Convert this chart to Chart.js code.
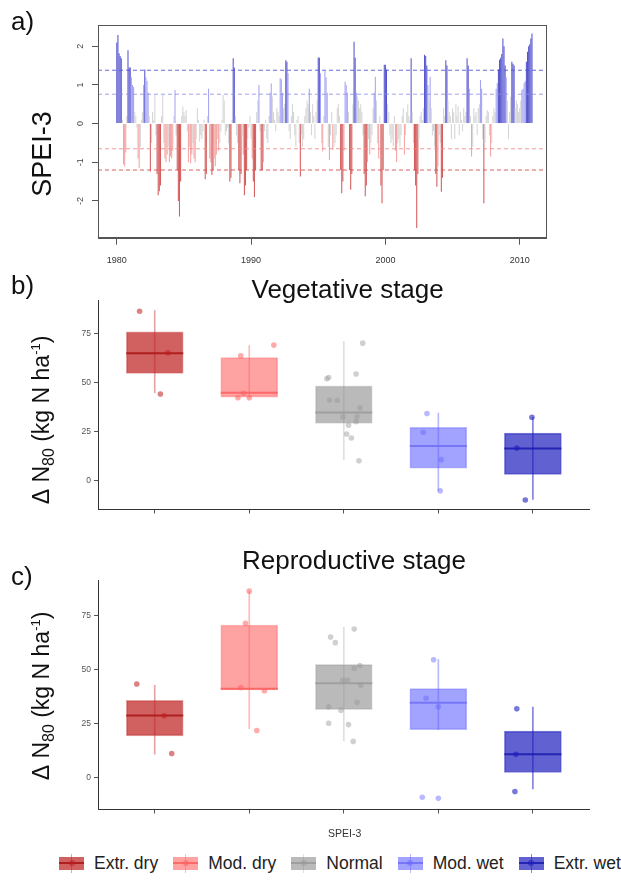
<!DOCTYPE html>
<html>
<head>
<meta charset="utf-8">
<title>SPEI-3 and ΔN80 by stage</title>
<script src="https://cdn.jsdelivr.net/npm/chart.js@4.4.1/dist/chart.umd.min.js"></script>
<style>
  body { margin: 0; background: #fff; font-family: "Liberation Sans", Arial, sans-serif; }
  #page { position: relative; width: 621px; height: 882px; overflow: hidden; background: #fff; }
  canvas { position: absolute; left: 0; }
  #speiChart { top: 0; }
  #vegChart { top: 270px; }
  #repChart { top: 540px; }
  #legend { position: absolute; left: 59px; top: 853px; height: 20px; display: flex; align-items: center; white-space: nowrap; }
  .item { display: flex; align-items: center; margin-right: 15px; font-size: 17.5px; color: #222; }
  .sw { position: relative; width: 25px; height: 19px; margin-right: 10px; }
  .sw b { position: absolute; display: block; }
  .wh { left: 12px; top: 0; width: 1px; height: 19px; }
  .bx { left: 0; top: 3px; width: 25px; height: 13px; }
  .md { left: 0; top: 8.5px; width: 25px; height: 2px; }
  .dt { left: 9.5px; top: 6.5px; width: 6px; height: 6px; border-radius: 50%; }
</style>
</head>
<body>
<div id="page">
  <canvas id="speiChart" width="621" height="270"></canvas>
  <canvas id="vegChart" width="621" height="270"></canvas>
  <canvas id="repChart" width="621" height="300"></canvas>
  <div id="legend"></div>
</div>
<script>
// ---- panel a: monthly SPEI-3, one row per year ----
const startYear = 1980;
const spei3 = [
  2.1, 2.29, 1.82, 1.75, 1.69, 0.1, -1.05, -1.11, -0.75, 0.2, 1.9, 1.45,     // 1980
  1.45, 1.2, 1.0, 0.95, 0.3, 0.2, -0.1, -0.9, -1.15, -0.6, 0.1, 0.3,         // 1981
  1.0, 1.4, 1.2, 1.1, 0.8, 0.2, -1.24, -0.5, 0.3, 0.1, 0.74, -0.3,           // 1982
  -1.3, -1.85, -1.75, -1.6, 0.2, 0.74, -0.5, -0.9, -1.0, -0.8, -0.6, -1.0,   // 1983
  -0.85, -0.9, -0.7, 0.2, 0.87, -0.3, -1.2, -2.0, -2.4, -1.5, 0.2, 0.44,     // 1984
  0.3, 0.2, 0.35, -0.2, -1.0, -0.6, -1.03, -0.8, -0.5, -0.9, -1.0, -0.4,     // 1985
  0.4, 0.1, -0.46, -0.3, -0.4, -0.2, 0.1, -1.44, -1.3, 0.2, 0.9, -0.9,       // 1986
  -1.0, -1.33, -1.2, -0.9, -1.1, -0.8, -0.4, -0.7, -0.5, -0.2, 0.1, 0.74,    // 1987
  0.6, -0.3, -0.2, -0.1, -0.5, -1.5, -1.4, 0.1, 1.69, 1.45, 0.2, -0.3,       // 1988
  -0.5, -1.2, -1.54, -1.3, -0.3, -0.8, -1.85, -1.6, -1.2, -0.4, -0.1, 0.2,   // 1989
  -0.4, -0.9, -1.5, -1.9, -1.2, 0.3, 0.6, 1.0, -0.2, -1.21, -1.2, -1.0,      // 1990
  -0.2, 0.1, -0.4, -0.5, 0.2, 0.8, 1.04, 0.7, 0.3, 0.1, -0.2, 0.4,           // 1991
  0.3, 0.2, 1.17, 1.15, 0.8, 0.4, 0.5, 1.64, 1.6, 1.3, -0.2, -0.4,           // 1992
  0.2, 0.5, 0.3, -0.3, -0.6, 0.1, 0.2, -0.5, -1.37, -0.3, -0.6, -0.4,        // 1993
  0.2, 0.4, 0.6, 0.5, 0.9, 0.3, -0.3, 0.5, 0.2, -0.4, 0.3, 0.6,              // 1994
  1.71, 1.7, 1.3, -0.5, -0.72, 0.2, 1.36, 1.2, 0.8, -0.6, -0.94, -0.3,       // 1995
  0.3, -0.68, -0.6, -0.5, -0.3, 0.4, 0.5, 0.2, -1.2, -1.8, -1.5, -0.7,       // 1996
  1.08, 1.0, 0.8, 0.3, -1.2, -1.71, -1.3, 0.5, 2.12, 1.7, 0.8, 0.7,          // 1997
  0.6, 0.4, 0.5, 0.3, -0.3, -1.3, -1.88, -1.6, -1.0, -0.4, -0.8, -0.5,       // 1998
  -0.3, 0.4, 0.8, 1.21, 0.6, -0.5, -0.9, 0.2, -1.6, -2.06, -1.2, 1.52,       // 1999
  1.52, 1.4, 0.5, 0.3, -0.3, -0.5, -0.4, -0.6, 0.2, -0.7, -1.0, -0.5,        // 2000
  -0.4, -0.6, -0.3, 0.2, 0.4, -0.8, -0.3, 0.3, 0.5, 0.2, 0.1, 1.69,          // 2001
  0.3, -0.5, -1.2, -1.6, -2.7, -1.3, -0.4, 0.2, 0.3, 0.1, 0.4, 1.78,         // 2002
  1.75, 1.5, 1.0, 0.6, 1.21, 0.4, -0.3, -0.2, -0.6, -1.3, -1.63, -1.1,       // 2003
  -0.3, -0.5, -1.76, -1.4, 0.4, 0.2, 1.64, 1.5, 0.6, 0.3, 0.2, -0.4,         // 2004
  0.4, 0.3, -0.4, 0.5, 0.2, 0.45, -0.3, 0.3, 0.1, -0.2, 0.4, 0.2,            // 2005
  0.3, 1.69, 1.5, 0.9, 0.2, -0.85, -0.6, 0.4, 0.2, 0.3, -0.3, 0.4,           // 2006
  0.5, 1.13, 0.9, -0.4, -2.06, -0.5, 0.2, 0.35, 0.3, -0.3, -0.85, -0.5,      // 2007
  0.2, 0.4, 0.3, 0.9, 1.05, 1.4, 1.65, 1.7, 1.8, 2.2, 2.0, 1.5,              // 2008
  1.2, 0.6, -0.4, 0.3, 0.7, 1.6, 1.55, 1.5, 0.4, 0.6, 0.5, 0.3,              // 2009
  0.4, 0.6, 0.87, 0.9, 1.05, 1.1, 1.6, 1.86, 2.0, 2.05, 2.2, 2.33            // 2010
];
const speiThresholds = [1.38, 0.76, -0.65, -1.2];   // extr. wet, mod. wet, mod. dry, extr. dry
const yearTicks = [1980, 1990, 2000, 2010];
const speiTicks = [-2, -1, 0, 1, 2];

// ---- panels b, c: ΔN80 by SPEI-3 class ----
const categories = ["Extr. dry", "Mod. dry", "Normal", "Mod. wet", "Extr. wet"];
const nTicks = [0, 25, 50, 75];

const vegLow  = [44.7, 42.5, 10.6, -5.3, -9.7];
const vegQ1   = [54.6, 42.5, 29.1, 6.2, 3.1];
const vegMed  = [64.9, 44.7, 34.7, 17.5, 16.3];
const vegQ3   = [75.8, 62.6, 48.2, 27.1, 24.1];
const vegHigh = [86.6, 68.7, 70.9, 34.4, 32.2];
const vegPoints = [
  [86.3, 65.1, 44.1],
  [63.5, 69.0, 44.4, 42.2, 42.2],
  [70.0, 54.3, 51.8, 52.5, 41.0, 40.9, 37.1, 32.4, 32.6, 30.0, 28.2, 23.7, 21.6, 10.0],
  [34.1, 24.6, 10.6, -5.3],
  [32.2, 16.5, -10.0]
];
const vegJitter = [
  [-0.16, 0.14, 0.06],
  [-0.09, 0.26, -0.06, -0.12, 0.0],
  [0.2, 0.13, -0.18, -0.16, -0.15, -0.07, 0.17, -0.01, 0.14, 0.13, 0.05, 0.03, 0.08, 0.16],
  [-0.12, -0.16, 0.03, 0.02],
  [-0.01, -0.17, -0.08]
];

const repLow  = [10.7, 22.5, 16.9, 22.0, -5.4];
const repQ1   = [19.2, 40.5, 31.3, 22.0, 2.2];
const repMed  = [28.6, 41.0, 43.6, 34.5, 10.6];
const repQ3   = [35.7, 70.6, 52.3, 41.1, 21.4];
const repHigh = [42.6, 86.3, 69.5, 54.5, 32.5];
const repPoints = [
  [43.2, 28.5, 11.0],
  [86.3, 71.4, 41.6, 40.1, 21.7],
  [68.7, 65.0, 62.4, 51.8, 50.4, 44.9, 45.1, 42.6, 34.7, 32.6, 31.1, 25.0, 24.4, 16.6],
  [54.5, 36.6, 32.7, -9.3, -9.8],
  [31.7, 10.6, -6.6]
];
const repJitter = [
  [-0.19, 0.1, 0.18],
  [0.0, -0.04, -0.09, 0.16, 0.08],
  [0.11, -0.14, -0.09, 0.17, 0.11, -0.01, 0.04, 0.18, 0.14, -0.16, -0.03, -0.16, 0.05, 0.1],
  [-0.05, -0.13, 0.0, -0.17, 0.0],
  [-0.17, -0.18, -0.19]
];

// ---- styles ----
const FONT = '"Liberation Sans", Arial, sans-serif';
Chart.defaults.font.family = FONT;

const speiColors = ["#5656cf", "#a4a4f2", "#d5d5d5", "#f5a4a4", "#d45c5c"];
const dashColors = ["rgba(80,80,210,0.85)", "rgba(140,140,235,0.8)", "rgba(240,135,135,0.85)", "rgba(215,80,80,0.9)"];

const fillColors    = ["rgba(190,30,30,0.7)", "rgba(255,100,100,0.6)", "rgba(140,140,140,0.6)", "rgba(100,100,255,0.6)", "rgba(30,30,190,0.7)"];
const lineColors    = ["rgba(170,20,20,0.85)", "rgba(250,95,95,0.85)", "rgba(150,150,150,0.75)", "rgba(110,110,245,0.85)", "rgba(25,25,175,0.85)"];
const whiskerColors = ["rgba(190,30,30,0.4)", "rgba(255,100,100,0.45)", "rgba(150,150,150,0.3)", "rgba(100,100,255,0.45)", "rgba(30,30,190,0.55)"];
const pointColors   = ["rgba(190,30,30,0.55)", "rgba(255,100,100,0.55)", "rgba(150,150,150,0.45)", "rgba(100,100,255,0.45)", "rgba(30,30,190,0.6)"];

function speiColor(v) {
  if (v >= speiThresholds[0]) return speiColors[0];
  if (v >= speiThresholds[1]) return speiColors[1];
  if (v > speiThresholds[2]) return speiColors[2];
  if (v > speiThresholds[3]) return speiColors[3];
  return speiColors[4];
}

// text segments: [text, size, dy]
function drawRich(ctx, segs, x, y, rotate, align, color) {
  ctx.save();
  ctx.translate(x, y);
  if (rotate) ctx.rotate(-Math.PI / 2);
  ctx.fillStyle = color || "#111";
  let total = 0;
  segs.forEach(s => { ctx.font = `${s[1]}px ${FONT}`; total += ctx.measureText(s[0]).width; });
  let cx = align === "center" ? -total / 2 : 0;
  ctx.textAlign = "left";
  segs.forEach(s => {
    ctx.font = `${s[1]}px ${FONT}`;
    ctx.fillText(s[0], cx, s[2]);
    cx += ctx.measureText(s[0]).width;
  });
  ctx.restore();
}

const panelText = {
  id: "panelText",
  afterDraw(chart, args, opts) {
    const ctx = chart.ctx;
    if (opts.frame) {
      const a = chart.chartArea;
      ctx.save();
      ctx.strokeStyle = "#555";
      ctx.lineWidth = 1;
      ctx.strokeRect(Math.round(a.left) + 0.5, Math.round(a.top) + 0.5, Math.round(a.right - a.left), Math.round(a.bottom - a.top));
      ctx.restore();
    }
    if (opts.rotatedTicks) {
      const ys = chart.scales.y;
      ctx.save();
      ctx.textBaseline = "alphabetic";
      ys.ticks.forEach(t => {
        drawRich(ctx, [[String(t.value), 9, 0]], 83, ys.getPixelForValue(t.value), true, "center", "#444");
      });
      ctx.restore();
    }
    (opts.items || []).forEach(it => {
      ctx.save();
      ctx.textBaseline = it.baseline || "alphabetic";
      const segs = it.rich || [[it.text, it.size, 0]];
      drawRich(ctx, segs, it.x, it.y, it.rotate, it.align, it.color);
      ctx.restore();
    });
  }
};

// ---- panel a ----
const xMin = 1978.6, xMax = 2011.96;
new Chart(document.getElementById("speiChart"), {
  type: "bar",
  data: {
    datasets: [
      ...speiThresholds.map((t, k) => ({
        type: "line",
        data: [{ x: xMin, y: t }, { x: xMax, y: t }],
        borderColor: dashColors[k],
        borderWidth: 1,
        borderDash: [4, 3],
        pointRadius: 0,
        order: 0
      })),
      {
        type: "bar",
        data: spei3.map((v, i) => ({ x: startYear + i / 12, y: v })),
        backgroundColor: ctx => speiColor(ctx.raw ? ctx.raw.y : 0),
        borderWidth: 0,
        categoryPercentage: 1,
        barPercentage: 0.95,
        order: 1
      }
    ]
  },
  options: {
    responsive: false,
    animation: false,
    layout: { padding: { left: 0, right: 75, top: 25, bottom: 0 } },
    plugins: {
      legend: { display: false },
      tooltip: { enabled: false },
      panelText: {
        frame: true,
        rotatedTicks: true,
        items: [
          { text: "a)", size: 26, x: 11, y: 23, baseline: "middle" },
          { text: "SPEI-3", size: 27, x: 51, y: 154, rotate: true, align: "center" }
        ]
      }
    },
    scales: {
      x: {
        type: "linear",
        min: xMin,
        max: xMax,
        offset: false,
        afterBuildTicks: s => { s.ticks = yearTicks.map(v => ({ value: v })); },
        afterFit: s => { s.height = 32.3; },
        grid: { offset: false, drawOnChartArea: false, tickLength: 7, color: "#555" },
        border: { color: "#555" },
        ticks: { font: { size: 9 }, color: "#333", padding: 10, maxRotation: 0, autoSkip: false, callback: v => String(v) }
      },
      y: {
        min: -2.95,
        max: 2.55,
        afterBuildTicks: s => { s.ticks = speiTicks.map(v => ({ value: v })); },
        afterFit: s => { s.width = 98; },
        grid: { drawOnChartArea: false, tickLength: 6, color: "#555" },
        border: { color: "#555" },
        ticks: { display: false }
      }
    }
  },
  plugins: [panelText]
});

// ---- panels b, c ----
const nLabel = [["Δ N", 23, 0], ["80", 16, 5], [" (kg N ha", 23, 0], ["-1", 13, -9], [")", 23, 0]];

function boxChart(id, low, q1, med, q3, high, points, jitter, yMin, yMax, top, axisH, items) {
  const pointSets = points.map((vals, i) => ({
    type: "scatter",
    data: vals.map((v, j) => ({ x: i + 1 + jitter[i][j], y: v })),
    backgroundColor: pointColors[i],
    borderWidth: 0,
    pointRadius: 2.8,
    order: 1
  }));
  return new Chart(document.getElementById(id), {
    type: "bar",
    data: {
      datasets: [
        {
          type: "bar",
          data: categories.map((c, i) => ({ x: i + 1, y: [low[i], high[i]] })),
          backgroundColor: whiskerColors,
          barThickness: 1,
          grouped: false,
          order: 4
        },
        {
          type: "bar",
          data: categories.map((c, i) => ({ x: i + 1, y: [q1[i], q3[i]] })),
          backgroundColor: fillColors,
          borderColor: whiskerColors,
          borderWidth: 1,
          borderSkipped: false,
          barThickness: 57,
          grouped: false,
          order: 3
        },
        {
          type: "scatter",
          data: categories.map((c, i) => ({ x: i + 1, y: med[i] })),
          pointStyle: "line",
          pointRadius: 28.5,
          pointBorderColor: lineColors,
          pointBorderWidth: 2,
          order: 2
        },
        ...pointSets
      ]
    },
    options: {
      responsive: false,
      animation: false,
      layout: { padding: { left: 0, right: 31.4, top: top, bottom: 0 } },
      plugins: {
        legend: { display: false },
        tooltip: { enabled: false },
        panelText: { items: items }
      },
      scales: {
        x: {
          type: "linear",
          min: 0.4,
          max: 5.6,
          offset: false,
          afterBuildTicks: s => { s.ticks = categories.map((c, i) => ({ value: i + 1 })); },
          afterFit: s => { s.height = axisH; },
          grid: { offset: false, drawOnChartArea: false, tickLength: 4, color: "#555" },
          border: { color: "#333" },
          ticks: { display: false }
        },
        y: {
          min: yMin,
          max: yMax,
          afterBuildTicks: s => { s.ticks = nTicks.map(v => ({ value: v })); },
          afterFit: s => { s.width = 98; },
          grid: { drawOnChartArea: false, tickLength: 4, color: "#555" },
          border: { color: "#333" },
          ticks: { font: { size: 8.5 }, color: "#555", padding: 3 }
        }
      }
    },
    plugins: [panelText]
  });
}

boxChart("vegChart", vegLow, vegQ1, vegMed, vegQ3, vegHigh, vegPoints, vegJitter, -14.82, 91.75, 21.7, 6.7, [
  { text: "b)", size: 26, x: 11, y: 16.5, baseline: "middle" },
  { text: "Vegetative stage", size: 26, x: 347.6, y: 21, align: "center", baseline: "middle" },
  { rich: nLabel, x: 49, y: 150, rotate: true, align: "center" }
]);

boxChart("repChart", repLow, repQ1, repMed, repQ3, repHigh, repPoints, repJitter, -14.97, 91.46, 40, 18.3, [
  { text: "c)", size: 26, x: 11, y: 38, baseline: "middle" },
  { text: "Reproductive stage", size: 26, x: 354, y: 21.7, align: "center", baseline: "middle" },
  { rich: nLabel, x: 49, y: 156, rotate: true, align: "center" },
  { text: "SPEI-3", size: 10.5, x: 344.6, y: 294, align: "center", baseline: "middle", color: "#333" }
]);

// ---- legend ----
const legend = document.getElementById("legend");
categories.forEach((name, i) => {
  const item = document.createElement("div");
  item.className = "item";
  item.innerHTML = `<span class="sw"><b class="wh" style="background:${whiskerColors[i]}"></b><b class="bx" style="background:${fillColors[i]}"></b><b class="md" style="background:${lineColors[i]}"></b><b class="dt" style="background:${pointColors[i]}"></b></span><span>${name}</span>`;
  legend.appendChild(item);
});
</script>
</body>
</html>
